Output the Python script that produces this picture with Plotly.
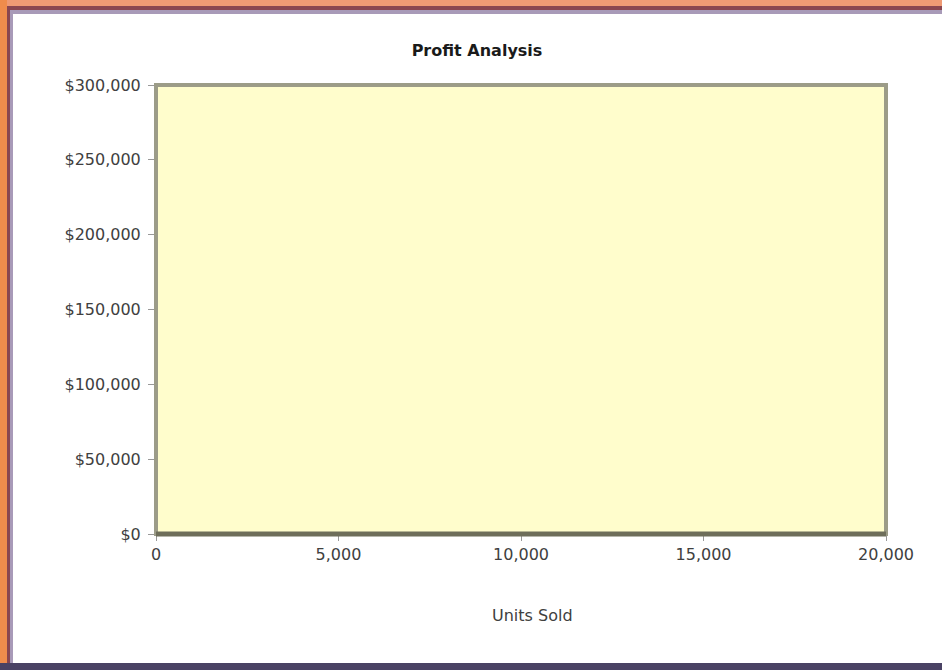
import plotly.graph_objects as go

title_text = "Profit Analysis"
x_title = "Units Sold"
x_ticks = [0, 5000, 10000, 15000, 20000]
x_ticklabels = ["0", "5,000", "10,000", "15,000", "20,000"]
y_ticks = [0, 50000, 100000, 150000, 200000, 250000, 300000]
y_ticklabels = ["$0", "$50,000", "$100,000", "$150,000", "$200,000", "$250,000", "$300,000"]
units_sold = []
profit = []

Wt, Ht = 942, 670
L, R, T, B = 156, 56, 85, 136
W = Wt - L - R
H = Ht - T - B

def px(X):
    return (X - L) / W

def py(Y):
    return (Ht - B - Y) / H

fig = go.Figure()
fig.add_trace(go.Scatter(x=units_sold, y=profit, mode="lines", showlegend=False))

shapes = []
def rect(x0, y0, x1, y1, color):
    shapes.append(dict(type="rect", xref="paper", yref="paper", x0=px(x0), x1=px(x1),
                       y0=py(y1), y1=py(y0), fillcolor=color, line=dict(width=0), layer="below"))

rect(0, 0, 942, 7, "#ef9a74")
rect(0, 0, 7, 670, "#f08c4c")
rect(7, 6, 942, 10, "#8a4650")
rect(7, 6, 10, 664, "#8a4650")
rect(10, 10, 942, 14, "#a89ab8")
rect(10, 10, 13, 664, "#a89ab8")
rect(0, 663, 942, 670, "#4a4264")
shapes.append(dict(type="rect", xref="paper", yref="paper", x0=0, x1=1, y0=0, y1=1,
                   line=dict(color="#9c9c88", width=4), layer="above"))
shapes.append(dict(type="line", xref="paper", yref="paper", x0=0, x1=1, y0=0, y1=0,
                   line=dict(color="#6e6e5a", width=5), layer="above"))
fig.update_layout(shapes=shapes)

FONT = "DejaVu Sans, Liberation Sans, Arial, sans-serif"
fig.update_layout(
    width=Wt, height=Ht,
    margin=dict(l=L, r=R, t=T, b=B),
    paper_bgcolor="white",
    plot_bgcolor="#fffdcc",
    font=dict(family=FONT, size=16, color="#404040"),
    title=dict(text="<b>" + title_text + "</b>", xref="container", x=477/942, xanchor="center",
               y=1 - 50/670, yanchor="middle", font=dict(size=16, color="#1a1a1a")),
    xaxis=dict(range=[0, 20000], tickvals=x_ticks, ticktext=x_ticklabels,
               showgrid=False, zeroline=False, showline=False,
               ticks="outside", ticklen=6, tickcolor="#999999"),
    yaxis=dict(range=[0, 300000], tickvals=y_ticks, ticktext=y_ticklabels,
               showgrid=False, zeroline=False, showline=False,
               ticks="outside", ticklen=7, tickcolor="#999999", ticklabelstandoff=4),
    annotations=[dict(text=x_title, xref="paper", yref="paper", x=px(532), y=py(615),
                      xanchor="center", yanchor="middle", showarrow=False,
                      font=dict(size=16, color="#404040"))],
)

fig.write_html("out.html", config={"displayModeBar": False},
               post_script="document.body.style.margin='0px';document.body.style.overflow='hidden';")
